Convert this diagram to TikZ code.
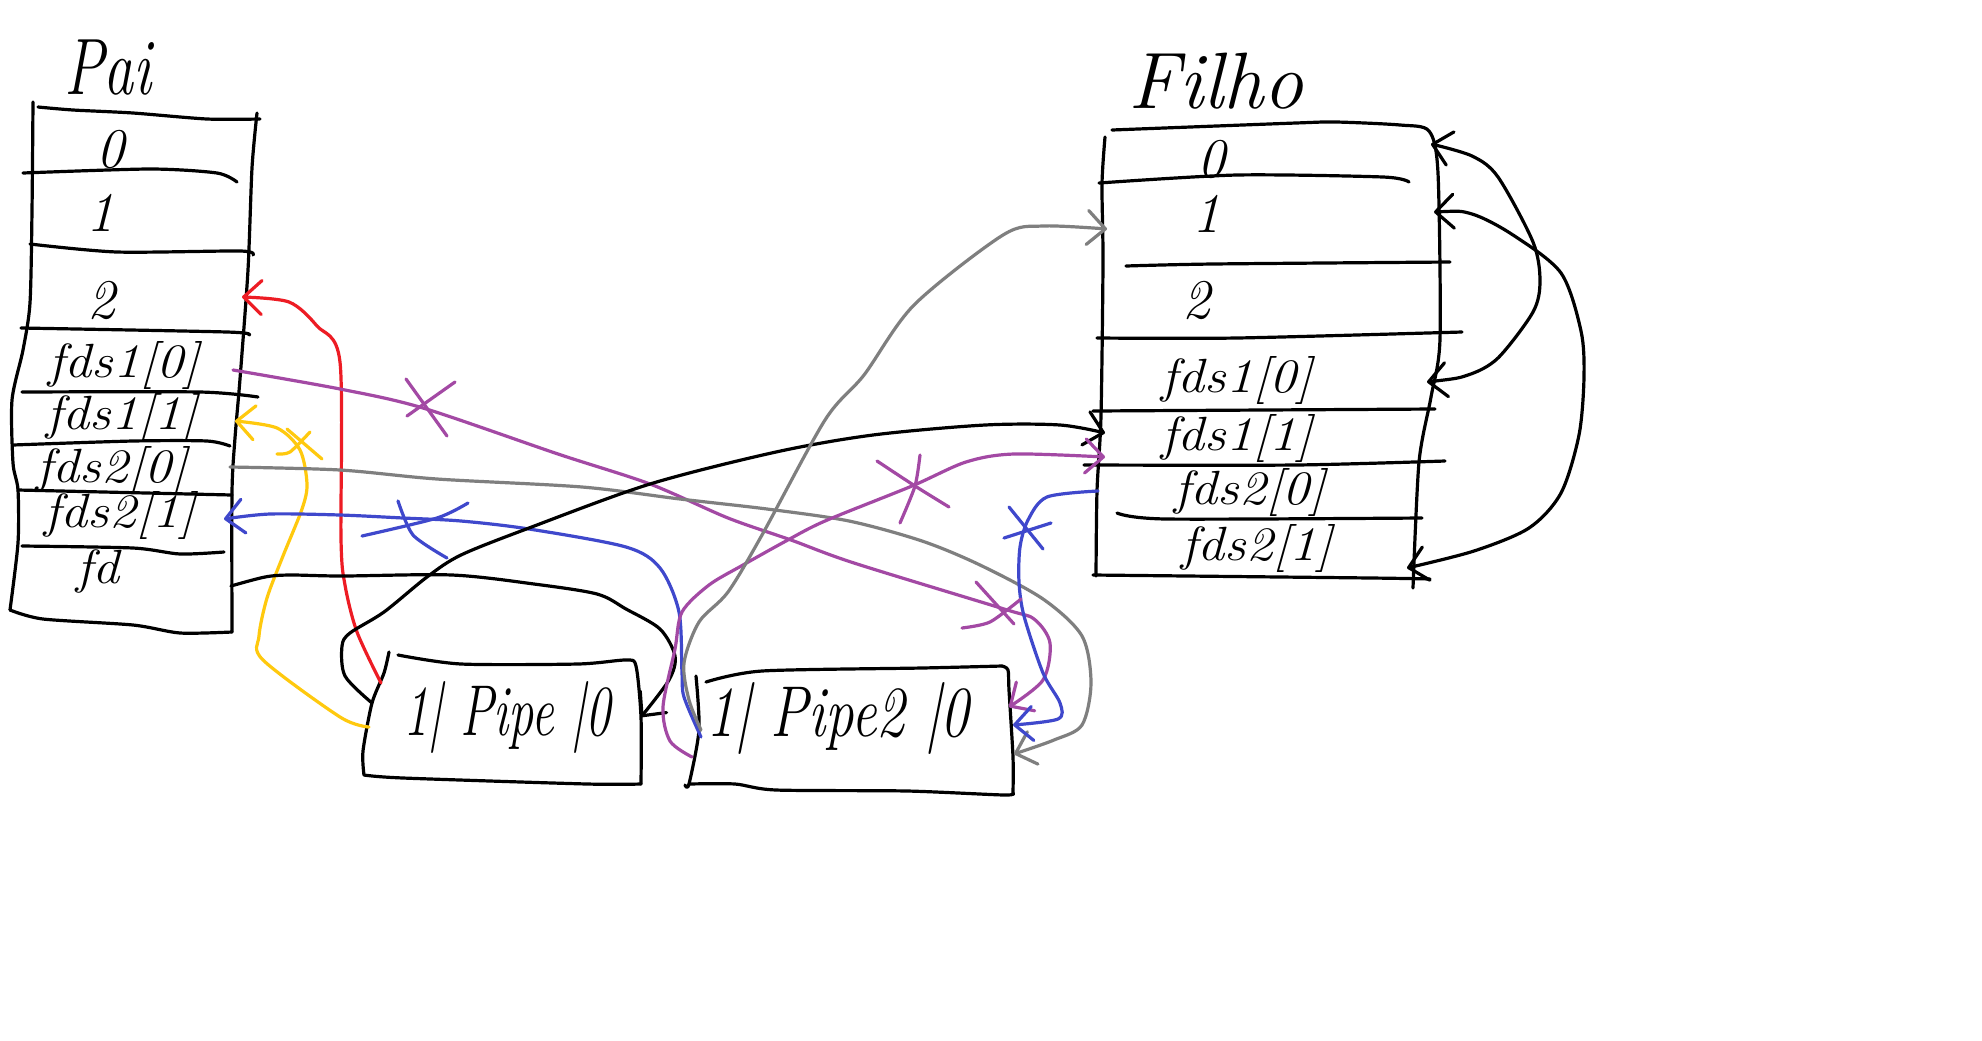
\documentclass[tikz,border=0pt]{standalone}
\usetikzlibrary{arrows.meta}
\definecolor{pred}{HTML}{ED1C24}
\definecolor{ppurple}{HTML}{A349A4}
\definecolor{pyellow}{HTML}{FFC90E}
\definecolor{pgray}{HTML}{7F7F7F}
\definecolor{pblue}{HTML}{3F48CC}
\tikzset{
  ink/.style={line width=1.6pt,line cap=round,line join=round,black},
  barb/.style={-{Straight Barb[length=9pt,width=17pt,round]}},
  dbarb/.style={{Straight Barb[length=9pt,width=17pt,round]}-{Straight Barb[length=9pt,width=17pt,round]}},
  lab/.style={inner sep=0pt,xscale=1.12,font=\itshape\fontsize{24}{26}\selectfont},
  bigdig/.style={inner sep=0pt,font=\itshape\fontsize{28}{30}\selectfont},
  pipelab/.style={inner sep=0pt,font=\itshape\fontsize{36}{38}\selectfont},
  titlelab/.style={inner sep=0pt,font=\itshape\fontsize{40}{42}\selectfont},
}
\newcommand{\handline}[2][]{\draw[ink,#1] plot[smooth,tension=0.45] coordinates {#2};}
\begin{document}
\begin{tikzpicture}[x=0.5pt,y=-0.5pt]
\useasboundingbox[fill=white] (0,0) rectangle (1982,1040);
% ---------- Pai stack
\handline{(38,107)(73,110)(133,113)(207,119)(260,119)}
\handline{(33,102)(32,211)(30,303)(23,350)(12,400)(13,463)(18,490)(18,543)(10,610)}
\handline{(10,610)(43,619)(133,625)(180,633)(232,632)}
\handline{(232,632)(232,492)(235,438)(240,379)(248,270)(252,168)(257,113)}
\handline{(23,173)(150,169)(217,173)(237,182)}
\handline{(30,244)(117,252)(240,251)(253,255)}
\handline{(21,328)(227,332)(249,335)}
\handline{(22,392)(200,392)(258,397)}
\handline{(13,445)(133,441)(207,441)(230,446)}
\handline{(18,490)(232,495)}
\handline{(22,546)(133,548)(180,554)(224,552)}
\node[titlelab,xscale=.75] (pai) at (108,68) {Pai};
\node[bigdig] (p0) at (110,149) {0};
\node[bigdig] (p1) at (100,213) {1};
\node[bigdig] (p2) at (101,300) {2};
\node[lab] (pf10) at (124,365) {fds1[0]};
\node[lab] (pf11) at (122,417) {fds1[1]};
\node[lab] (pf20) at (112,470) {fds2[0]};
\node[lab] (pf21) at (120,515) {fds2[1]};
\node[lab] (pfd) at (98,571) {fd};
% ---------- Filho stack
\handline{(1112,130)(1296,123)(1336,122)(1400,125)(1429,131)(1438,173)(1440,339)(1431,397)(1419,462)(1413,588)}
\handline{(1105,137)(1102,184)(1103,262)(1101,416)(1097,491)(1096,576)}
\handline{(1093,575)(1371,578)(1430,579)}
\handline{(1099,183)(1237,175)(1383,177)(1409,182)}
\handline{(1126,266)(1213,264)(1450,262)}
\handline{(1097,338)(1237,338)(1462,332)}
\handline{(1093,411)(1435,409)}
\handline{(1084,465)(1296,465)(1445,461)}
\handline{(1117,513)(1166,519)(1422,518)}
\node[titlelab] (filho) at (1216,81) {Filho};
\node[bigdig] (f0) at (1211,159) {0};
\node[bigdig] (f1) at (1206,214) {1};
\node[bigdig] (f2) at (1196,300) {2};
\node[lab] (ff10) at (1237,380) {fds1[0]};
\node[lab] (ff11) at (1237,438) {fds1[1]};
\node[lab] (ff20) at (1250,492) {fds2[0]};
\node[lab] (ff21) at (1257,548) {fds2[1]};
% ---------- Pipes
\handline{(398,655)(461,664)(578,664)(626,660)(636,666)(641,717)(641,784)}
\handline{(641,784)(587,784)(403,778)(364,775)}
\handline{(364,775)(363,751)(372,703)(384,673)(389,652)}
\handline{(696,676)(699,730)(689,784)(685,785)}
\handline{(689,784)(735,784)(776,790)(907,791)(1004,795)(1013,793)}
\handline{(1013,793)(1013,757)(1009,690)(1008,670)(1002,666)}
\handline{(1002,666)(922,668)(762,671)(706,682)}
\node[pipelab,xscale=.7] (pipea) at (507,717) {1| Pipe |0};
\node[pipelab,xscale=.79] (pipeb) at (838,718) {1| Pipe2 |0};
% ---------- Connector ends
\coordinate (pai2) at (242,297);
\coordinate (pai10) at (233,370);
\coordinate (pai11) at (235,421);
\coordinate (pai20) at (230,467);
\coordinate (pai21) at (224,519);
\coordinate (paifd) at (231,586);
\coordinate (fil0) at (1431,144);
\coordinate (fil1) at (1434,212);
\coordinate (fil1l) at (1107,229);
\coordinate (fil10) at (1427,382);
\coordinate (fil11) at (1105,433);
\coordinate (fil11b) at (1105,457);
\coordinate (fil20) at (1098,491);
\coordinate (fil21) at (1407,568);
\coordinate (aw) at (381,683);
\coordinate (ay) at (369,727);
\coordinate (ab) at (372,703);
\coordinate (ar) at (641,717);
\coordinate (bw) at (701,737);
\coordinate (bg) at (701,730);
\coordinate (bp) at (692,757);
\coordinate (br1) at (1009,707);
\coordinate (br2) at (1013,725);
\coordinate (br3) at (1014,754);
% ---------- Connectors
\draw[ink,pred,barb] plot[smooth,tension=0.5] coordinates {(aw)(357,632)(345,585)(341,539)(340,362)(317,326)(289,302)(pai2)};
\draw[ink,pyellow,barb] plot[smooth,tension=0.5] coordinates {(ay)(340,717)(263,660)(259,636)(267,598)(283,556)(302,509)(307,484)(300,450)(277,428)(pai11)};
\draw[ink,ppurple,barb] plot[smooth,tension=0.5] coordinates {(pai10)(340,389)(423,408)(558,454)(650,484)(728,518)(791,540)(854,563)(1004,609)(1034,619)(1050,643)(1043,680)(br1)};
\draw[ink,pgray,barb] plot[smooth,tension=0.5] coordinates {(pai20)(340,470)(437,479)(582,487)(680,499)(767,509)(849,521)(922,541)(980,565)(1043,599)(1082,636)(1091,683)(1082,725)(1054,740)(br3)};
\draw[ink,pblue,barb] plot[smooth,tension=0.5] coordinates {(bw)(684,697)(682,673)(679,612)(660,568)(626,547)(529,529)(461,521)(403,518)(340,515)(270,514)(pai21)};
\draw[ink,barb] plot[smooth,tension=0.5] coordinates {(paifd)(265,577)(290,575)(342,576)(452,575)(534,584)(597,594)(626,609)(660,629)(675,656)(669,680)(ar)};
\draw[ink,barb] plot[smooth,tension=0.5] coordinates {(ab)(345,676)(342,646)(350,633)(384,612)(427,577)(461,555)(529,528)(650,484)(776,452)(873,435)(985,425)(1060,425)(fil11)};
\draw[ink,ppurple,barb] plot[smooth,tension=0.5] coordinates {(bp)(670,741)(663,707)(675,649)(682,612)(709,585)(743,565)(786,541)(825,521)(912,486)(966,462)(1014,454)(fil11b)};
\draw[ink,pgray,barb] plot[smooth,tension=0.5] coordinates {(bg)(689,700)(684,663)(699,622)(728,592)(762,535)(825,420)(864,375)(914,305)(1003,235)(1043,226)(fil1l)};
\draw[ink,pblue,barb] plot[smooth,tension=0.5] coordinates {(fil20)(1047,497)(1028,520)(1020,547)(1019,582)(1024,616)(1043,673)(1060,703)(1058,719)(br2)};
\draw[ink,dbarb] plot[smooth,tension=0.5] coordinates {(fil10)(1468,375)(1498,358)(1533,312)(1540,281)(1533,242)(1498,177)(1472,156)(fil0)};
\draw[ink,dbarb] plot[smooth,tension=0.5] coordinates {(fil1)(1472,214)(1513,235)(1561,273)(1581,331)(1584,377)(1579,435)(1561,493)(1529,528)(1474,551)(fil21)};
% ---------- Crosses
\handline[ppurple]{(406,379)(447,436)}
\handline[ppurple]{(407,416)(455,382)}
\handline[ppurple]{(976,582)(1014,624)}
\handline[ppurple]{(962,628)(990,622)(1021,599)}
\handline[ppurple]{(877,461)(915,486)(949,507)}
\handline[ppurple]{(920,455)(915,486)(900,523)}
\handline[pyellow]{(277,454)(290,452)(310,432)}
\handline[pyellow]{(287,429)(322,459)}
\handline[pblue]{(398,501)(413,535)(447,558)}
\handline[pblue]{(362,536)(437,518)(468,503)}
\handline[pblue]{(1009,507)(1043,549)}
\handline[pblue]{(1004,538)(1051,523)}
\end{tikzpicture}
\end{document}
